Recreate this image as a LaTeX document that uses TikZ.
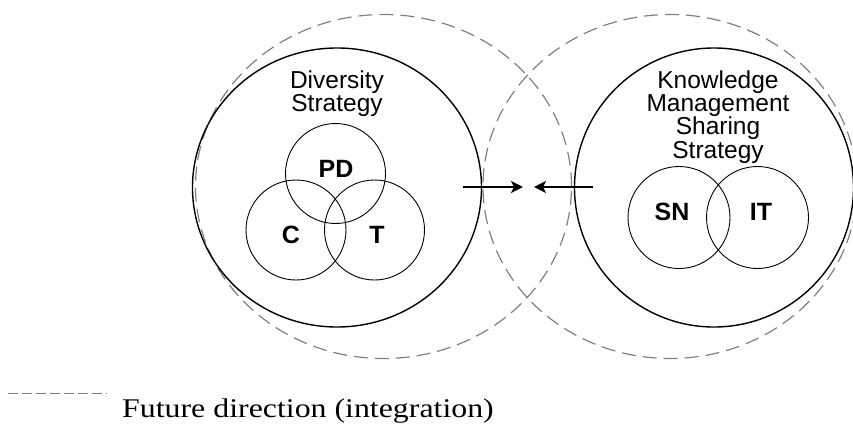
\documentclass[tikz,border=0pt]{standalone}
\usepackage{fontspec}
\setmainfont{Liberation Sans}
\newfontfamily\legendfont{Liberation Serif}
\usetikzlibrary{shapes.geometric,arrows.meta}
\begin{document}
\begin{tikzpicture}[x=1pt,y=-1pt,
  outer/.style={ellipse,draw=black,line width=1.4pt,inner sep=0pt},
  future/.style={ellipse,draw=black!50,line width=1.2pt,dash pattern=on 14pt off 7pt,inner sep=0pt},
  part/.style={circle,draw=black,line width=0.9pt,inner sep=0pt,minimum size=100pt},
  partlabel/.style={font=\fontsize{25}{27}\selectfont\bfseries},
  titletext/.style={align=center,font=\fontsize{24.5}{23.3}\selectfont},
  link/.style={line width=2pt,-{Stealth[length=12pt,width=12pt,inset=3pt]}}]
\useasboundingbox (0,0) rectangle (853,423);

% future integration spheres
\node[future,minimum width=376pt,minimum height=344pt] (fl) at (383.5,186.5) {};
\node[future,minimum width=374pt,minimum height=344pt] (fr) at (670,186.5) {};

% diversity strategy
\node[outer,minimum width=289pt,minimum height=279pt] (div) at (337,187.5) {};
\node[titletext] (divt) at (337,94) {Diversity\\Strategy};
\node[part] (pd) at (335.5,173.5) {};
\node[part] (c) at (296,230) {};
\node[part] (t) at (374.5,230) {};
\node[partlabel] (pdl) at (336,169) {PD};
\node[partlabel] (cl) at (291,235) {C};
\node[partlabel] (tl) at (377,235) {T};

% knowledge management sharing strategy
\node[outer,minimum width=279pt,minimum height=279pt] (km) at (714,187.5) {};
\node[titletext] (kmt) at (718,117) {Knowledge\\Management\\Sharing\\Strategy};
\node[part,minimum size=102pt] (sn) at (679,217.5) {};
\node[part,minimum size=102pt] (it) at (757.5,217.5) {};
\node[partlabel] (snl) at (672,212) {SN};
\node[partlabel] (itl) at (761,212) {IT};

% arrows towards each other
\coordinate (la) at (463,187);
\coordinate (lb) at (523,187);
\coordinate (ra) at (593,187);
\coordinate (rb) at (534,187);
\draw[link] (la) -- (lb);
\draw[link] (ra) -- (rb);

% legend
\coordinate (lg1) at (8,393);
\coordinate (lg2) at (107,393);
\draw[draw=black!50,line width=1pt,dash pattern=on 10pt off 4pt] (lg1) -- (lg2);
\node[anchor=base west,inner sep=0pt,font=\legendfont\fontsize{27}{29}\selectfont] (lgt) at (122,417) {\scalebox{1.18}[1]{Future direction (integration)}};
\end{tikzpicture}
\end{document}
